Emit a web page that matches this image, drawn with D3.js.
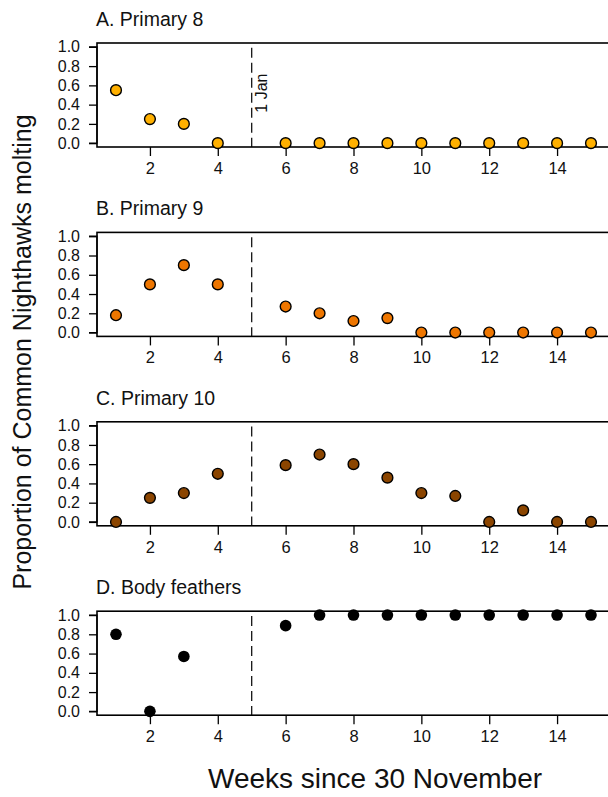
<!DOCTYPE html>
<html>
<head>
<meta charset="utf-8">
<script src="https://cdn.jsdelivr.net/npm/d3@7"></script>
<style>
  body { margin: 0; background: #fff; }
  svg { display: block; font-family: "Liberation Sans", Arial, sans-serif; }
</style>
</head>
<body>
<script>
// weeks sampled (week 5 = 1 Jan has no data)
var weeksPrimary = [1, 2, 3, 4, 6, 7, 8, 9, 10, 11, 12, 13, 14, 15];
var weeksBody = [1, 2, 3, 6, 7, 8, 9, 10, 11, 12, 13, 14, 15];

// proportion molting, one array per panel
var primary8 = [0.55, 0.25, 0.20, 0, 0, 0, 0, 0, 0, 0, 0, 0, 0, 0];
var primary9 = [0.18, 0.50, 0.70, 0.50, 0.27, 0.20, 0.12, 0.15, 0, 0, 0, 0, 0, 0];
var primary10 = [0, 0.25, 0.30, 0.50, 0.59, 0.70, 0.60, 0.46, 0.30, 0.27, 0, 0.12, 0, 0];
var bodyFeathers = [0.80, 0, 0.57, 0.89, 1, 1, 1, 1, 1, 1, 1, 1, 1];

var panelTitles = ["A. Primary 8", "B. Primary 9", "C. Primary 10", "D. Body feathers"];
var panelColors = ["#FFB000", "#EE7600", "#8B4500", "#000000"];
var yTicks = [0, 0.2, 0.4, 0.6, 0.8, 1.0];
var xTicks = [2, 4, 6, 8, 10, 12, 14];
var janWeek = 5;

var panels = [
  { vals: primary8, weeks: weeksPrimary },
  { vals: primary9, weeks: weeksPrimary },
  { vals: primary10, weeks: weeksPrimary },
  { vals: bodyFeathers, weeks: weeksBody }
];

var W = 608, H = 797;
var svg = d3.select('body').append('svg')
  .attr('width', W)
  .attr('height', H);

// shared x scale, R style 4% padding
var x = d3.scaleLinear().domain([0.44, 15.56]).range([97, 610]);

var PANEL_TOP = 43, PANEL_STEP = 189.4, PANEL_H = 104;
var FONT = 'Liberation Sans, Arial, sans-serif';

panels.forEach(function(panel, p) {
  var top = PANEL_TOP + p * PANEL_STEP;
  var y = d3.scaleLinear().domain([-0.04, 1.04]).range([top + PANEL_H, top]);
  var g = svg.append('g');

  // title
  g.append('text')
    .attr('x', 96)
    .attr('y', top - 17)
    .attr('font-size', 19.5)
    .attr('fill', '#111')
    .text(panelTitles[p]);

  // y axis
  var yAxis = d3.axisLeft(y).tickValues(yTicks).tickFormat(d3.format('.1f')).tickSize(8).tickPadding(9);
  var ya = g.append('g').attr('transform', 'translate(' + x.range()[0] + ',0)').call(yAxis);
  ya.select('.domain').attr('d', 'M-8,' + y(0) + 'H0V' + y(1) + 'H-8').attr('stroke-width', 1.3);
  ya.selectAll('.tick line').attr('stroke-width', 1.3);
  ya.selectAll('.tick text').attr('font-size', 16).attr('fill', '#111').attr('font-family', FONT);

  // x axis (ticks only, labels below)
  var xAxis = d3.axisBottom(x).tickValues(xTicks).tickSize(9).tickPadding(6);
  var xa = g.append('g').attr('transform', 'translate(0,' + (top + PANEL_H) + ')').call(xAxis);
  xa.select('.domain').remove();
  xa.selectAll('.tick line').attr('stroke-width', 1.3);
  xa.selectAll('.tick text').attr('font-size', 16.5).attr('fill', '#111').attr('font-family', FONT);

  // box
  g.append('rect')
    .attr('x', x.range()[0])
    .attr('y', top)
    .attr('width', x.range()[1] - x.range()[0])
    .attr('height', PANEL_H)
    .attr('fill', 'none')
    .attr('stroke', '#000')
    .attr('stroke-width', 1.6);

  // 1 Jan dashed line
  g.append('line')
    .attr('x1', x(janWeek)).attr('x2', x(janWeek))
    .attr('y1', y(0.99)).attr('y2', y(-0.04))
    .attr('stroke', '#000')
    .attr('stroke-width', 1.2)
    .attr('stroke-dasharray', '10,5');

  if (p === 0) {
    g.append('text')
      .attr('transform', 'translate(' + (x(janWeek) + 15) + ',' + y(0.52) + ') rotate(-90)')
      .attr('text-anchor', 'middle')
      .attr('font-size', 16)
      .attr('fill', '#111')
      .text('1 Jan');
  }

  // points
  g.selectAll('circle')
    .data(panel.vals)
    .enter()
    .append('circle')
    .attr('cx', function(d, i) { return x(panel.weeks[i]); })
    .attr('cy', function(d) { return y(d); })
    .attr('r', p === 3 ? 5.8 : 5.4)
    .attr('fill', panelColors[p])
    .attr('stroke', '#000')
    .attr('stroke-width', p === 3 ? 0 : 1.4);
});

// outer axis labels
svg.append('text')
  .attr('transform', 'translate(31,' + 352 + ') rotate(-90)')
  .attr('text-anchor', 'middle')
  .attr('font-size', 25)
  .attr('fill', '#111')
  .text('Proportion of Common Nighthawks molting');

svg.append('text')
  .attr('x', 375)
  .attr('y', 788)
  .attr('text-anchor', 'middle')
  .attr('font-size', 28)
  .attr('fill', '#111')
  .text('Weeks since 30 November');
</script>
</body>
</html>
